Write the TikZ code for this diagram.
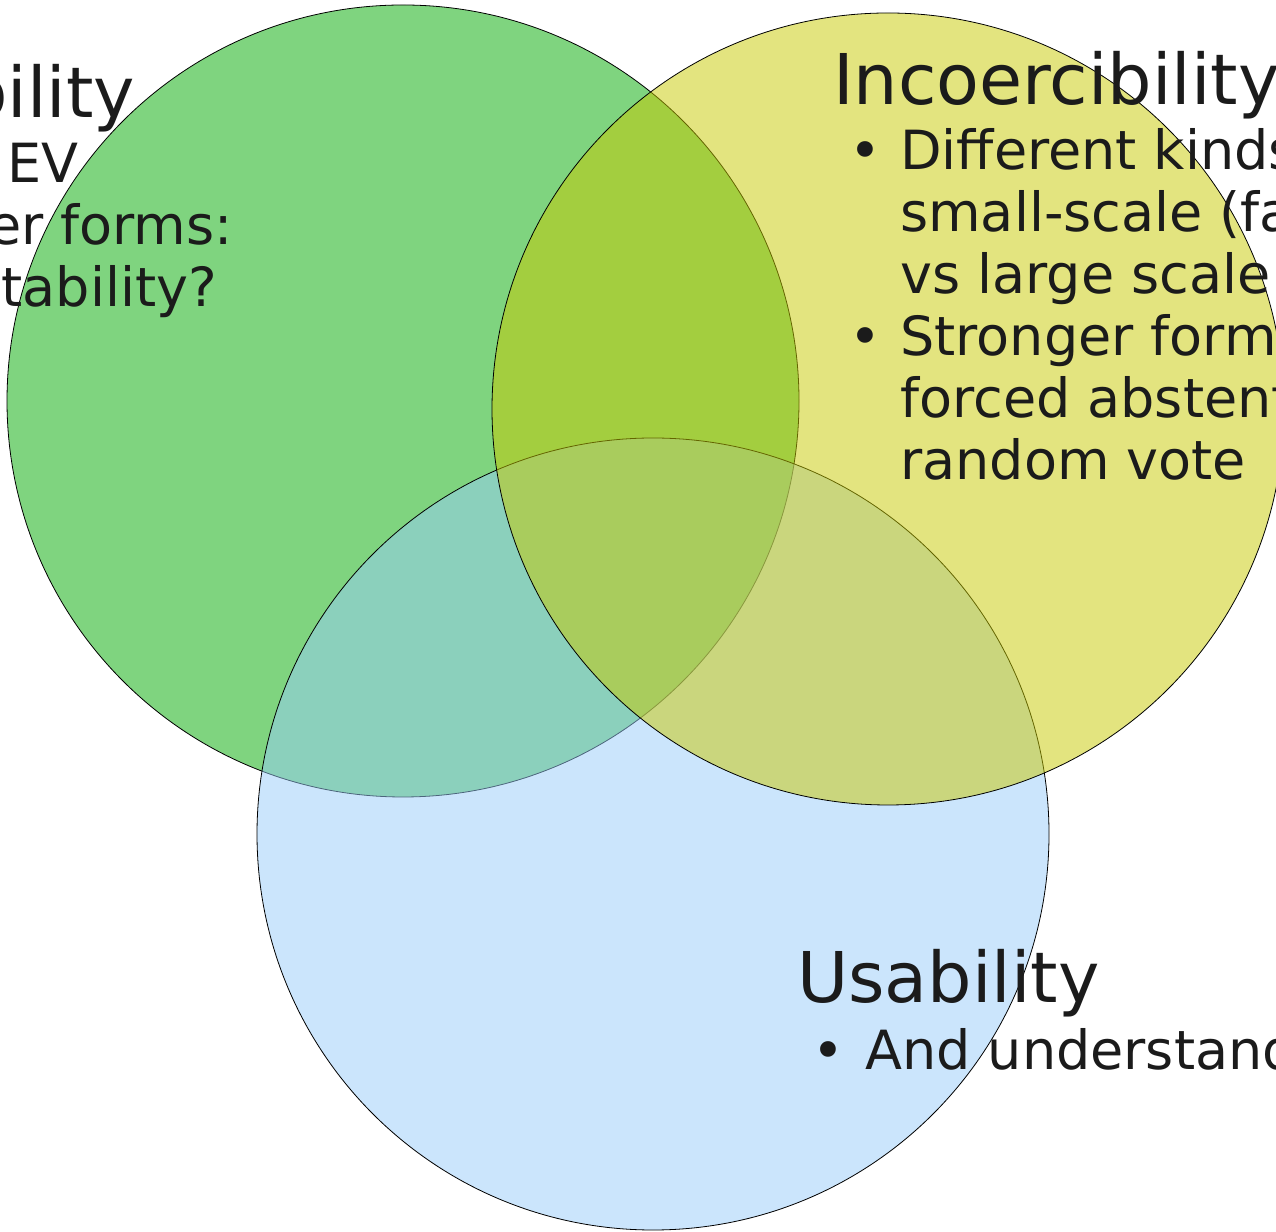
\documentclass[tikz,border=0pt]{standalone}
\usepackage{fontspec}
\setmainfont{DejaVu Sans}
\usepackage{tkz-euclide}
\usetikzlibrary{positioning}
\definecolor{verif}{RGB}{0,170,0}
\definecolor{incoerc}{RGB}{200,201,0}
\definecolor{usab}{RGB}{152,203,249}
\definecolor{ink}{RGB}{27,27,27}

\begin{document}
\begin{tikzpicture}[
  x = 1pt, y = 1pt,
  setcircle/.style = {draw=black, line width=0.8pt, fill opacity=0.5},
  heading/.style = {inner sep=0pt, text=ink, font=\fontsize{70}{84}\selectfont},
  entry/.style = {inner sep=0pt, text=ink, font=\fontsize{54}{62}\selectfont},
  bulletmark/.style = {entry, anchor=base},
]

  \clip (0,0) rectangle (1276,1231);

  \tkzDefPoint(403,830){cv}
  \tkzDefPoint(888,822){ci}
  \tkzDefPoint(653,397){cu}

  %\tkzDrawPoints(cv,ci,cu)

  \draw[setcircle, fill=verif] (cv) circle[radius=396];
  \draw[setcircle, fill=usab] (cu) circle[radius=396];
  \draw[setcircle, fill=incoerc] (ci) circle[radius=396];

  % verifiability, cut off at the left edge
  \node[heading, anchor=base east] (ver title) at (135,1113) {Verifiability};
  \node[entry, anchor=base east] (ver l1) at (79,1048) {• Universal EV};
  \node[entry, anchor=base east] (ver l2) at (233,986) {• Weaker forms:};
  \node[entry, anchor=base east] (ver l3) at (217,924) {accountability?};

  % incoercibility
  \node[heading, anchor=base west] (inc title) at (833,1126) {Incoercibility};
  \node[entry, anchor=base west] (inc list) at (900,1061) {%
    \begin{tabular}[t]{@{}l@{}}
      Different kinds of\\
      small-scale (family\\
      vs large scale\\
      Stronger forms:\\
      forced abstention,\\
      random vote
    \end{tabular}};
  \node[bulletmark] (inc b1) at (865,1061) {•};
  \node[bulletmark] (inc b2) at (865,875) {•};

  % usability
  \node[heading, anchor=base west] (use title) at (797,228) {Usability};
  \node[entry, anchor=base west] (use list) at (865,161) {And understanding};
  \node[bulletmark] (use b1) at (828,161) {•};

\end{tikzpicture}
\end{document}
